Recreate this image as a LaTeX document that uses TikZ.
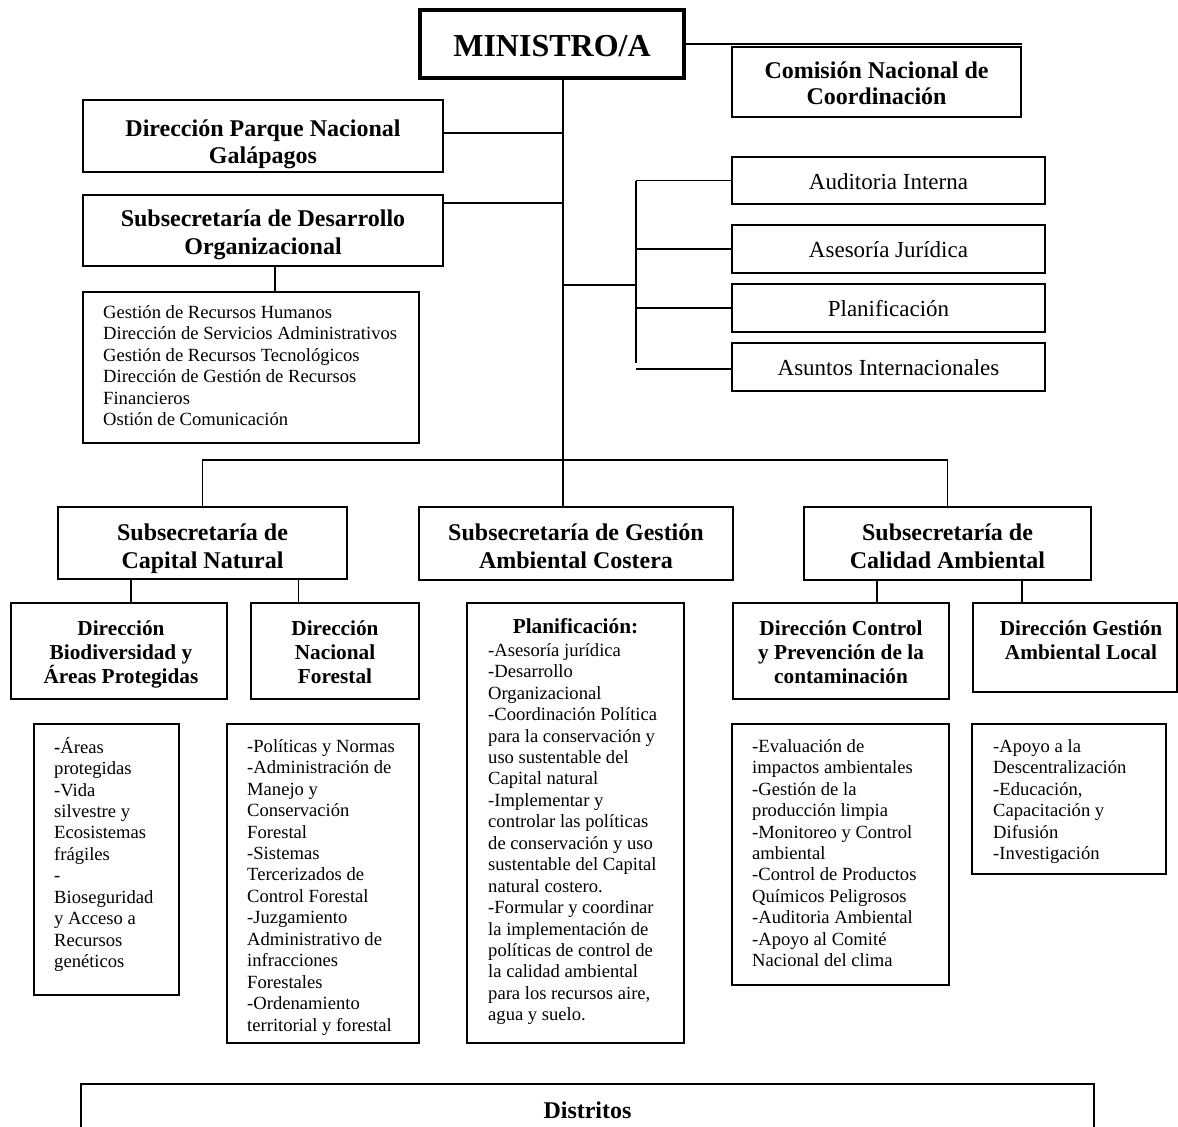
\documentclass[tikz,border=0pt]{standalone}
\usepackage{fontspec}
\setmainfont{Liberation Serif}
\usetikzlibrary{calc}
\begin{document}
\begin{tikzpicture}[x=1pt,y=-1pt,
  bx/.style={draw, rectangle, inner sep=0pt, line width=1.9pt},
  conn/.style={draw, line width=1.5pt},
  ttl/.style={inner sep=0pt, anchor=north, align=center, font=\fontsize{24}{27}\selectfont\bfseries},
  dtl/.style={inner sep=0pt, anchor=north, align=center, font=\fontsize{21.3}{24.3}\selectfont\bfseries},
  lst/.style={inner sep=0pt, anchor=north west, align=left, font=\fontsize{18.6}{21.45}\selectfont},
  rbx/.style={bx, font=\fontsize{23}{27}\selectfont, text height=17pt, text depth=0pt, minimum width=313pt, minimum height=48pt},
]
\fill[white] (0,0) rectangle (1178,1127);
\useasboundingbox (0,0) rectangle (1178,1127);
\clip (0,0) rectangle (1178,1127);

% top
\node[bx, line width=3.4pt, minimum width=264pt, minimum height=68pt, font=\fontsize{32}{36}\selectfont\bfseries, text height=24pt, text depth=0pt] (min) at (552,44) {MINISTRO/A};
\node[bx, minimum width=289pt, minimum height=70pt] (com) at (876.5,82) {};
\node[ttl, font=\fontsize{24}{26}\selectfont\bfseries] (com-t) at (876.5,59.8) {\strut Comisión Nacional de\\Coordinación};

\node[bx, minimum width=360pt, minimum height=72pt] (parque) at (263,136) {};
\node[ttl] (parque-t) at (263,117.1) {\strut Dirección Parque Nacional\\Galápagos};

\node[bx, minimum width=360pt, minimum height=71pt] (desa) at (263,230.5) {};
\node[ttl, font=\fontsize{24}{28}\selectfont\bfseries] (desa-t) at (263,206.4) {\strut Subsecretaría de Desarrollo\\Organizacional};

\node[bx, minimum width=336pt, minimum height=151pt] (dlist) at (251,367.5) {};
\node[lst] (dlist-t) at (103,303) {\strut Gestión de Recursos Humanos\\Dirección de Servicios Administrativos\\Gestión de Recursos Tecnológicos\\Dirección de Gestión de Recursos\\Financieros\\Ostión de Comunicación};

% right group
\node[rbx, minimum height=47pt] (aud) at (888.5,180.5) {Auditoria Interna};
\node[rbx] (ase) at (888.5,249) {Asesoría Jurídica};
\node[rbx] (pla) at (888.5,308) {Planificación};
\node[rbx] (asu) at (888.5,367) {Asuntos Internacionales};

% subsecretarias
\node[bx, minimum width=289pt, minimum height=72pt] (cap) at (202.5,543) {};
\node[ttl, font=\fontsize{24}{28}\selectfont\bfseries] (cap-t) at (202.5,520.4) {\strut Subsecretaría de\\Capital Natural};
\node[bx, minimum width=314pt, minimum height=73pt] (cost) at (576,543.5) {};
\node[ttl, font=\fontsize{24}{28}\selectfont\bfseries] (cost-t) at (576,520.4) {\strut Subsecretaría de Gestión\\Ambiental Costera};
\node[bx, minimum width=287pt, minimum height=73pt] (cal) at (947.5,543.5) {};
\node[ttl, font=\fontsize{24}{28}\selectfont\bfseries] (cal-t) at (947.5,521) {\strut Subsecretaría de\\Calidad Ambiental};

% direcciones
\node[bx, minimum width=216pt, minimum height=96pt] (bio) at (119,651) {};
\node[dtl] (bio-t) at (121,618) {\strut Dirección\\Biodiversidad y\\Áreas Protegidas};
\node[bx, minimum width=168pt, minimum height=96pt] (fore) at (335,651) {};
\node[dtl] (fore-t) at (335,618) {\strut Dirección\\Nacional\\Forestal};
\node[bx, minimum width=216pt, minimum height=96pt] (ctrl) at (841,651) {};
\node[dtl] (ctrl-t) at (841,618) {\strut Dirección Control\\y Prevención de la\\contaminación};
\node[bx, minimum width=204pt, minimum height=89pt] (loc) at (1075,647.5) {};
\node[dtl] (loc-t) at (1081,618) {\strut Dirección Gestión\\Ambiental Local};

% lists
\node[bx, minimum width=145pt, minimum height=271pt] (bl) at (106.5,859.5) {};
\node[lst] (bl-t) at (54,737) {\strut\textbf{-}Áreas\\protegidas\\-Vida\\silvestre y\\Ecosistemas\\frágiles\\-\\Bioseguridad\\y Acceso a\\Recursos\\genéticos};
\node[bx, minimum width=192pt, minimum height=319pt] (fl) at (323,883.5) {};
\node[lst] (fl-t) at (247,737) {\strut -Políticas y Normas\\-Administración de\\Manejo y\\Conservación\\Forestal\\-Sistemas\\Tercerizados de\\Control Forestal\\-Juzgamiento\\Administrativo de\\infracciones\\Forestales\\-Ordenamiento\\territorial y forestal};
\node[bx, minimum width=217pt, minimum height=440pt] (pl) at (575.5,823) {};
\node[inner sep=0pt, anchor=base, font=\fontsize{21.3}{24.3}\selectfont\bfseries] (pl-h) at (575.5,633) {Planificación:};
\node[lst] (pl-t) at (488,641) {\strut -Asesoría jurídica\\-Desarrollo\\Organizacional\\-Coordinación Política\\para la conservación y\\uso sustentable del\\Capital natural\\-Implementar y\\controlar las políticas\\de conservación y uso\\sustentable del Capital\\natural costero.\\-Formular y coordinar\\la implementación de\\políticas de control de\\la calidad ambiental\\para los recursos aire,\\agua y suelo.};
\node[bx, minimum width=217pt, minimum height=261pt] (cl) at (840.5,854.5) {};
\node[lst] (cl-t) at (752,737) {\strut -Evaluación de\\impactos ambientales\\-Gestión de la\\producción limpia\\-Monitoreo y Control\\ambiental\\-Control de Productos\\Químicos Peligrosos\\-Auditoria Ambiental\\-Apoyo al Comité\\Nacional del clima};
\node[bx, minimum width=194pt, minimum height=150pt] (ll) at (1069,799) {};
\node[lst] (ll-t) at (993,737) {\strut -Apoyo a la\\Descentralización\\-Educación,\\Capacitación y\\Difusión\\-Investigación};

% distritos
\node[bx, minimum width=1013pt, minimum height=56pt, font=\fontsize{24}{27}\selectfont\bfseries, text height=12pt, text depth=0pt] (dist) at (587.5,1112) {Distritos};

% connectors
\coordinate (bus) at (563,460);
\coordinate (rg) at (636,285);
\coordinate (rgend) at (636,363);
\draw[conn] (min.east) -- (min.east -| com.east);
\draw[conn] ([xshift=11pt]min.south) -- ([xshift=-13pt]cost.north);
\draw[conn] ([yshift=3pt]parque.east) -- ([yshift=3pt]parque.east -| bus);
\draw[conn] ([yshift=27.5pt]desa.east) -- ([yshift=27.5pt]desa.east -| bus);
\draw[conn] ([xshift=12pt]desa.south) -- ([xshift=24pt]dlist.north);
\draw[conn] (rg -| bus) -- (rg);
\draw[conn] (aud.west -| rg) -- (rgend);
\draw[conn] (aud.west -| rg) -- (aud.west);
\draw[conn] (ase.west -| rg) -- (ase.west);
\draw[conn] (pla.west -| rg) -- (pla.west);
\draw[conn] ([yshift=-2pt]asu.west -| rg) -- ([yshift=-2pt]asu.west);
\draw[conn] (cap.north) -- (cap.north |- bus) -- (cal.north |- bus) -- (cal.north);
\draw[conn] ([xshift=12pt]bio.north) -- ([xshift=12pt]bio.north |- cap.south);
\draw[conn] ([xshift=-36.5pt]fore.north) -- ([xshift=-36.5pt]fore.north |- cap.south);
\draw[conn] ([xshift=36pt]ctrl.north) -- ([xshift=36pt]ctrl.north |- cal.south);
\draw[conn] ([xshift=-53pt]loc.north) -- ([xshift=-53pt]loc.north |- cal.south);
\end{tikzpicture}
\end{document}
